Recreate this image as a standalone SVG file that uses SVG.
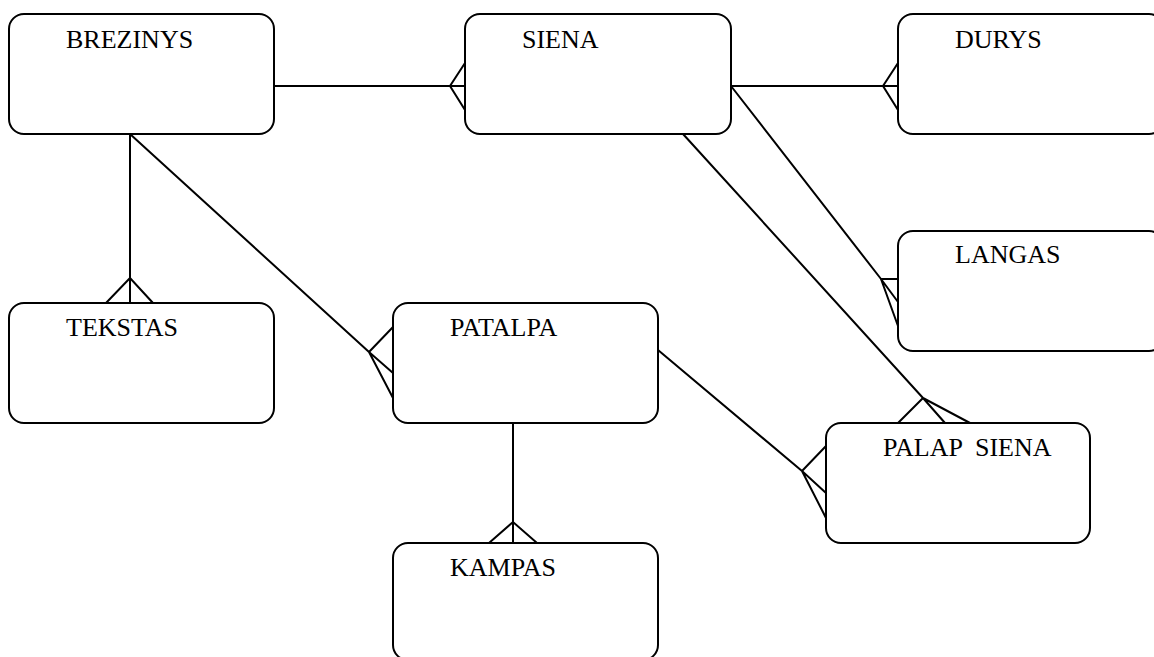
<svg xmlns="http://www.w3.org/2000/svg" width="1154" height="657" viewBox="0 0 1154 657">
  <style>
    .box { fill: #ffffff; stroke: #000000; stroke-width: 2; }
    .lbl { font-family: "Liberation Serif", "Times New Roman", serif; font-size: 26px; fill: #000000; }
    .ln { fill: none; stroke: #000000; stroke-width: 2; }
  </style>
  <rect width="1154" height="657" fill="#ffffff"/>

  <!-- relationships (crow's foot = many end) -->
  <g id="connectors" class="ln">
    <!-- BREZINYS - SIENA -->
    <path d="M274,86 H465 M465,63 L450,86 L465,110"/>
    <!-- SIENA - DURYS -->
    <path d="M731,86 H898 M898,63 L883,86 L898,110"/>
    <!-- SIENA - LANGAS -->
    <path d="M731,86 L881,279 M881,279 H898 M881,279 L898,302 M881,279 L898,326"/>
    <!-- SIENA - PALAP SIENA -->
    <path d="M683,134 L923,398 M923,398 L898,423 M923,398 L945,423 M923,398 L970,423"/>
    <!-- BREZINYS - TEKSTAS -->
    <path d="M130,134 V303 M106,303 L130,278 L153,303"/>
    <!-- BREZINYS - PATALPA -->
    <path d="M130,134 L369,352 M393,327 L369,352 L393,373 M369,352 L393,398"/>
    <!-- PATALPA - PALAP SIENA -->
    <path d="M658,350 L802,471 M826,446 L802,471 L826,493 M802,471 L826,518"/>
    <!-- PATALPA - KAMPAS -->
    <path d="M513,423 V543 M489,543 L513,522 L537,543"/>
  </g>

  <g id="brezinys">
    <rect class="box" x="9" y="14" width="265" height="120" rx="15"/>
    <text class="lbl" x="66" y="48">BREZINYS</text>
  </g>
  <g id="siena">
    <rect class="box" x="465" y="14" width="266" height="120" rx="15"/>
    <text class="lbl" x="522" y="48">SIENA</text>
  </g>
  <g id="durys">
    <rect class="box" x="898" y="14" width="266" height="120" rx="15"/>
    <text class="lbl" x="955" y="48">DURYS</text>
  </g>
  <g id="langas">
    <rect class="box" x="898" y="231" width="266" height="120" rx="15"/>
    <text class="lbl" x="955" y="263">LANGAS</text>
  </g>
  <g id="tekstas">
    <rect class="box" x="9" y="303" width="265" height="120" rx="15"/>
    <text class="lbl" x="66" y="336">TEKSTAS</text>
  </g>
  <g id="patalpa">
    <rect class="box" x="393" y="303" width="265" height="120" rx="15"/>
    <text class="lbl" x="450" y="336">PATALPA</text>
  </g>
  <g id="palap-siena">
    <rect class="box" x="826" y="423" width="264" height="120" rx="15"/>
    <text class="lbl" x="883" y="456" xml:space="preserve">PALAP  SIENA</text>
  </g>
  <g id="kampas">
    <rect class="box" x="393" y="543" width="265" height="117" rx="15"/>
    <text class="lbl" x="450" y="576">KAMPAS</text>
  </g>
</svg>
